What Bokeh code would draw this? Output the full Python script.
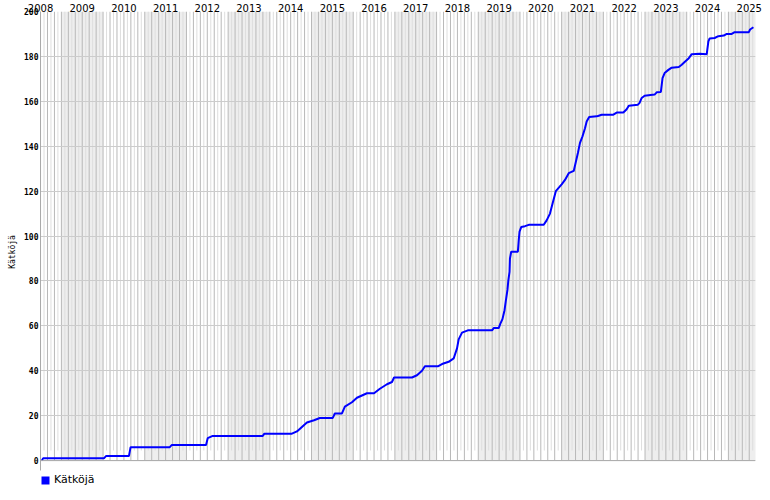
import numpy as np
from bokeh.plotting import figure
from bokeh.models import Range1d, FixedTicker, Span, Legend, LegendItem, ColumnDataSource
from bokeh.embed import file_html
from bokeh.resources import INLINE

# ---- data ----
years = list(range(2008, 2026))
year_labels = [str(y) for y in years]
y_ticks = [0, 20, 40, 60, 80, 100, 120, 140, 160, 180, 200]

dates = [2008.53, 2008.56, 2010.02, 2010.07, 2010.62, 2010.66, 2011.60, 2011.65,
         2012.47, 2012.51, 2012.63, 2013.83, 2013.87, 2014.53, 2014.65, 2014.77,
         2014.89, 2015.06, 2015.20, 2015.51, 2015.56, 2015.73, 2015.80, 2015.97,
         2016.09, 2016.21, 2016.33, 2016.50, 2016.64, 2016.81, 2016.93, 2016.98,
         2017.41, 2017.53, 2017.65, 2017.72, 2018.03, 2018.13, 2018.29, 2018.41,
         2018.49, 2018.53, 2018.61, 2018.75, 2019.33, 2019.37, 2019.49, 2019.53,
         2019.58, 2019.63, 2019.66, 2019.70, 2019.72, 2019.75, 2019.76, 2019.79,
         2019.95, 2019.97, 2019.99, 2020.03, 2020.12, 2020.21, 2020.57, 2020.64,
         2020.72, 2020.79, 2020.86, 2021.00, 2021.08, 2021.17, 2021.29, 2021.34,
         2021.39, 2021.44, 2021.50, 2021.56, 2021.60, 2021.66, 2021.84, 2021.89,
         2021.96, 2022.23, 2022.32, 2022.48, 2022.56, 2022.61, 2022.83, 2022.87,
         2022.92, 2022.99, 2023.23, 2023.28, 2023.38, 2023.42, 2023.47, 2023.56,
         2023.64, 2023.81, 2023.88, 2023.95, 2024.05, 2024.12, 2024.31, 2024.48,
         2024.52, 2024.55, 2024.67, 2024.76, 2024.89, 2024.96, 2025.08, 2025.15,
         2025.49, 2025.52, 2025.60]
caches = [0, 1, 1, 2, 2, 6, 6, 7,
          7, 10, 11, 11, 12, 12, 13, 15,
          17, 18, 19, 19, 21, 21, 24, 26,
          28, 29, 30, 30, 32, 34, 35, 37,
          37, 38, 40, 42, 42, 43, 44, 45.5,
          50, 54, 57, 58, 58, 59, 59, 61,
          63, 67, 71, 76, 80, 84, 90, 93,
          93, 98, 102, 104, 104.4, 105, 105, 107,
          110, 115, 120, 123, 125, 128, 129, 133,
          137, 141.5, 144.4, 148, 151, 153, 153.3, 153.6,
          154, 154, 155, 155, 156.5, 158, 158.5, 159.3,
          161.5, 162.5, 163, 164, 164.2, 170.3, 172.6, 174,
          175, 175.3, 176.3, 177.5, 179.2, 181, 181.2, 181,
          186.7, 188, 188.2, 189, 189.3, 190, 190, 190.8,
          190.8, 192, 193]

x_start, x_end = 2008.499, 2025.65
y_bottom = -14.2   # room below zero for the legend row

p = figure(width=762, height=492, output_backend="svg", toolbar_location=None,
           x_range=Range1d(x_start, x_end), y_range=Range1d(y_bottom, 200),
           x_axis_location="above", y_axis_location="left",
           min_border_left=40, min_border_right=7, min_border_top=10,
           min_border_bottom=0, background_fill_color="white",
           border_fill_color="white")
p.outline_line_color = None

# alternating year shading (odd years)
odd = [y for y in years if y % 2 == 1]
p.quad(left=odd, right=[y + 1 for y in odd], bottom=0, top=200,
       fill_color="#eeeeee", line_color=None, level="image")

# monthly vertical lines
months = [y + m / 12 for y in range(2008, 2026) for m in range(12)]
months = [m for m in months if x_start <= m <= x_end]
dark = [m for m in months if round((m % 1) * 12) % 2 == 0]
light = [m for m in months if round((m % 1) * 12) % 2 == 1]
p.segment(x0=dark, x1=dark, y0=0, y1=200, line_color="#b8b8b8", line_width=1, level="image")
p.segment(x0=light, x1=light, y0=4.5, y1=200, line_color="#dedede", line_width=1, level="image")

# horizontal grid
p.xgrid.visible = False
p.ygrid.ticker = FixedTicker(ticks=y_ticks)
p.ygrid.grid_line_color = "#cccccc"

p.add_layout(Span(location=0, dimension="width", line_color="#aaaaaa", line_width=1))

# data line
src = ColumnDataSource(dict(date=dates, count=caches))
p.line("date", "count", source=src, line_color="#0000ff", line_width=2)
# zero-size rects on the same data: only used for the square legend swatch
sw = p.rect("date", "count", source=src, width=0, height=0,
            fill_color="#0000ff", line_color=None)

# axes
xa = p.xaxis[0]
xa.ticker = FixedTicker(ticks=[y + 0.5 for y in years])
xa.major_label_overrides = {y + 0.5: lab for y, lab in zip(years, year_labels)}
xa.axis_line_color = None
xa.major_tick_line_color = None
xa.minor_tick_line_color = None
xa.major_tick_out = 0
xa.minor_tick_out = 0
xa.major_label_standoff = 0
xa.major_label_text_font = "DejaVu Sans"
xa.major_label_text_font_size = "10px"
xa.major_label_text_color = "black"

ya = p.yaxis[0]
ya.ticker = FixedTicker(ticks=y_ticks)
ya.bounds = (-4.4, 200)
ya.axis_line_color = "#aaaaaa"
ya.major_tick_line_color = None
ya.minor_tick_line_color = None
ya.major_tick_out = 0
ya.minor_tick_out = 0
ya.major_label_standoff = 2
ya.major_label_text_font = "DejaVu Sans Mono"
ya.major_label_text_font_size = "8px"
ya.major_label_text_font_style = "bold"
ya.major_label_text_color = "black"
ya.axis_label = "Kätköjä"
ya.axis_label_text_font = "DejaVu Sans Mono"
ya.axis_label_text_font_size = "8px"
ya.axis_label_text_font_style = "normal"
ya.axis_label_text_color = "black"
ya.axis_label_standoff = 4

# legend (inside the frame, in the strip below zero)
leg = Legend(items=[LegendItem(label="Kätköjä", renderers=[sw])], location=(0, 6),
             padding=0, margin=0, border_line_color=None, background_fill_alpha=0,
             glyph_width=10, glyph_height=10, label_height=10, label_standoff=4,
             label_text_font="DejaVu Sans", label_text_font_size="11px",
             label_text_color="black")
p.add_layout(leg, "center")

open("out.html", "w").write(file_html(p, INLINE))
